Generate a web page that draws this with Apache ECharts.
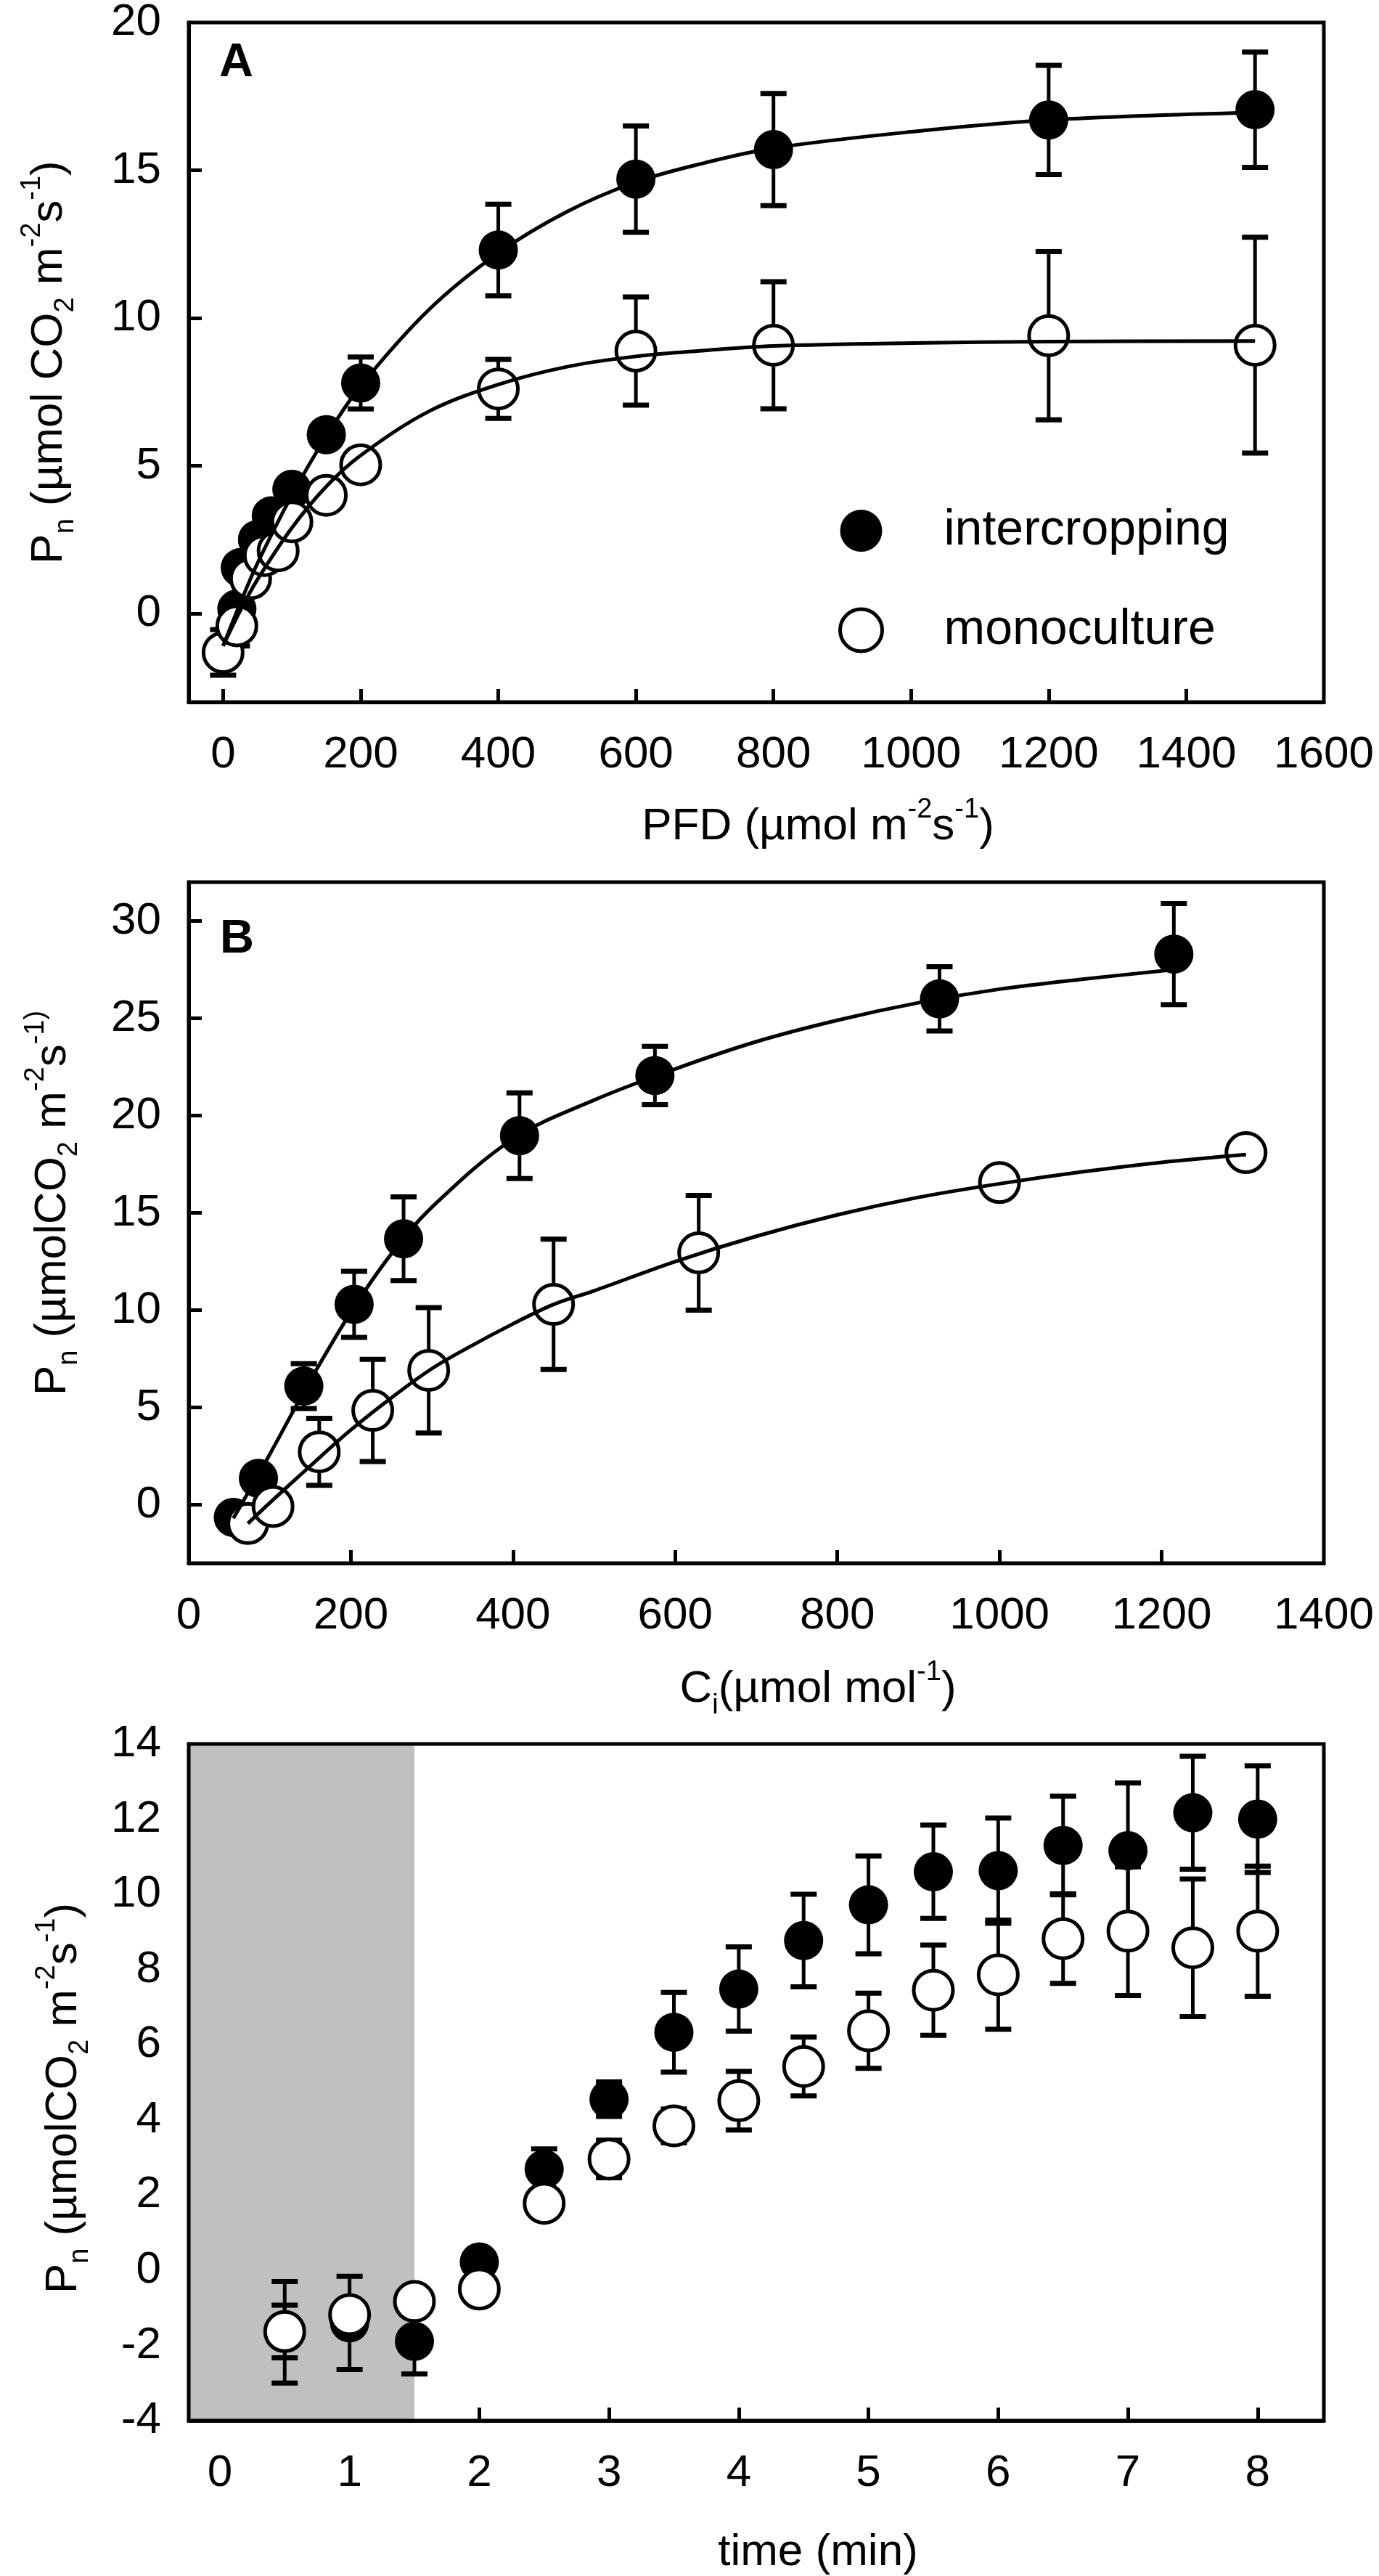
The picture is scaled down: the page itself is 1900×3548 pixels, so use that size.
<!DOCTYPE html>
<html>
<head>
<meta charset="utf-8">
<script src="https://cdn.jsdelivr.net/npm/echarts@6/dist/echarts.min.js"></script>
<style>
  html, body { margin: 0; padding: 0; background: #fff; }
  #chart { width: 1900px; height: 3548px; }
</style>
</head>
<body>
<div id="chart"></div>
<script>
// ===== A: light response (PFD) =====
const pfdFill   = [0, 20, 25, 50, 70, 100, 150, 200, 400, 600, 800, 1200, 1500];
const pnFillA   = [-1.3, 0.15, 1.55, 2.5, 3.3, 4.2, 6.05, 7.8, 12.3, 14.7, 15.7, 16.7, 17.05];
const errFillA  = [0.3, 1.25, 0.3, 0.3, 0.3, 0.3, 0.3, 0.88, 1.55, 1.8, 1.9, 1.85, 1.95];
const pfdOpen   = [0, 20, 40, 60, 80, 100, 150, 200, 400, 600, 800, 1200, 1500];
const pnOpenA   = [-1.32, -0.42, 1.18, 1.96, 2.12, 3.1, 4.0, 5.03, 7.6, 8.88, 9.08, 9.4, 9.08];
const errOpenA  = [0.77, 0.3, 0.3, 0.3, 0.3, 0.3, 0.3, 0.3, 1.0, 1.83, 2.15, 2.85, 3.65];
// fitted curves
const fitXA     = [0, 25, 50, 100, 150, 200, 300, 400, 500, 600, 700, 800, 1000, 1200, 1500];
const fitFillA  = [-1.1, 0.35, 1.7, 4.0, 6.0, 7.7, 10.3, 12.2, 13.6, 14.6, 15.25, 15.75, 16.3, 16.7, 16.95];
const fitOpenA  = [-1.1, 0.1, 1.15, 2.9, 4.3, 5.35, 6.85, 7.75, 8.35, 8.7, 8.9, 9.05, 9.15, 9.2, 9.22];

// ===== B: CO2 response (Ci) =====
const ciFill    = [55, 86, 142, 204, 265, 408, 575, 926, 1215];
const pnFillB   = [-0.65, 1.36, 6.1, 10.3, 13.67, 18.97, 22.06, 26.0, 28.3];
const errFillB  = [0.3, 0.3, 1.15, 1.7, 2.15, 2.2, 1.5, 1.65, 2.6];
const ciOpen    = [73, 104, 161, 227, 296, 450, 629, 1000, 1304];
const pnOpenB   = [-0.96, -0.09, 2.72, 4.85, 6.91, 10.3, 12.95, 16.56, 18.1];
const errOpenB  = [0.3, 0.3, 1.72, 2.63, 3.22, 3.35, 2.95, 0.3, 0.3];
const fitXBFill = [55, 100, 150, 200, 250, 300, 400, 500, 600, 700, 800, 900, 1000, 1100, 1215];
const fitFillB  = [-0.7, 2.6, 6.4, 9.9, 12.9, 15.3, 18.8, 20.8, 22.4, 23.8, 24.9, 25.8, 26.5, 27.0, 27.5];
const fitXBOpen = [73, 100, 150, 200, 250, 300, 350, 400, 450, 500, 600, 700, 800, 900, 1000, 1100, 1200, 1304];
const fitOpenB  = [-0.96, 0.1, 2.0, 3.85, 5.5, 7.0, 8.2, 9.3, 10.3, 11.0, 12.5, 13.8, 14.9, 15.8, 16.5, 17.1, 17.6, 18.0];

// ===== C: induction (time) =====
const timeC     = [0.5, 1, 1.5, 2, 2.5, 3, 3.5, 4, 4.5, 5, 5.5, 6, 6.5, 7, 7.5, 8];
const pnFillC   = [-1.65, -1.4, -1.89, 0.22, 2.69, 4.55, 6.33, 7.48, 8.77, 9.72, 10.6, 10.63, 11.3, 11.16, 12.17, 12.0];
const errFillC  = [1.35, 1.24, 0.87, 0.3, 0.54, 0.46, 1.06, 1.12, 1.23, 1.3, 1.24, 1.4, 1.31, 1.8, 1.5, 1.42];
const pnOpenC   = [-1.63, -1.18, -0.83, -0.5, 1.78, 2.96, 3.84, 4.51, 5.42, 6.37, 7.45, 7.86, 8.82, 9.02, 8.58, 9.02];
const errOpenC  = [0.7, 0.3, 0.3, 0.3, 0.3, 0.5, 0.45, 0.78, 0.78, 1.0, 1.2, 1.45, 1.19, 1.71, 1.83, 1.73];
const darkEnd   = 1.5;   // shaded (dark) period

// tick labels
const ticksAx = [0, 200, 400, 600, 800, 1000, 1200, 1400, 1600];
const ticksAy = [0, 5, 10, 15, 20];
const ticksBx = [0, 200, 400, 600, 800, 1000, 1200, 1400];
const ticksBy = [0, 5, 10, 15, 20, 25, 30];
const ticksCx = [0, 1, 2, 3, 4, 5, 6, 7, 8];
const ticksCy = [-4, -2, 0, 2, 4, 6, 8, 10, 12, 14];

const F = "'Liberation Sans', Arial, sans-serif";

const pair = (xs, ys) => xs.map((x, i) => [x, ys[i]]);

function richFor(size) {
  return {
    b:   { fontFamily: F, fontSize: size, lineHeight: 84, verticalAlign: 'middle', color: '#000' },
    sup: { fontFamily: F, fontSize: Math.round(size * 0.62), lineHeight: 84, verticalAlign: 'top', color: '#000' },
    sub: { fontFamily: F, fontSize: Math.round(size * 0.62), lineHeight: 84, verticalAlign: 'bottom', color: '#000' }
  };
}

function xAxisOf(idx, min, max, labels, ticks, name, nameGap) {
  return {
    gridIndex: idx, type: 'value', min: min, max: max,
    name: name, nameLocation: 'middle', nameGap: nameGap,
    nameTextStyle: { rich: richFor(62), padding: [0, 0, 0, 170] },
    axisLine: { show: true, onZero: false, lineStyle: { color: '#000', width: 5 } },
    axisTick: { show: true, inside: true, length: 18, customValues: ticks, lineStyle: { color: '#000', width: 5 } },
    axisLabel: { customValues: labels, color: '#000', fontFamily: F, fontSize: 62, margin: 42,
                 formatter: v => String(v) },
    splitLine: { show: false }
  };
}

function yAxisOf(idx, min, max, labels, ticks, name, nameGap, pad) {
  return {
    gridIndex: idx, type: 'value', min: min, max: max,
    name: name, nameLocation: 'middle', nameGap: nameGap, nameRotate: 90,
    nameTextStyle: { rich: richFor(62), padding: pad },
    axisLine: { show: true, onZero: false, lineStyle: { color: '#000', width: 5 } },
    axisTick: { show: true, inside: true, length: 18, customValues: ticks, lineStyle: { color: '#000', width: 5 } },
    axisLabel: { customValues: labels, color: '#000', fontFamily: F, fontSize: 62, margin: 38,
                 formatter: v => String(v) },
    splitLine: { show: false }
  };
}

function errorBars(idx, xs, ys, errs) {
  return {
    type: 'custom', xAxisIndex: idx, yAxisIndex: idx, z: 1, silent: true,
    encode: { x: 0, y: [1, 2] },
    data: xs.map((x, i) => [x, ys[i] - errs[i], ys[i] + errs[i]]),
    renderItem: function (params, api) {
      const hi = api.coord([api.value(0), api.value(2)]);
      const lo = api.coord([api.value(0), api.value(1)]);
      const w = 18;
      return {
        type: 'group',
        children: [
          { type: 'line', shape: { x1: hi[0], y1: hi[1], x2: lo[0], y2: lo[1] }, style: { stroke: '#000', lineWidth: 5 } },
          { type: 'line', shape: { x1: hi[0] - w, y1: hi[1], x2: hi[0] + w, y2: hi[1] }, style: { stroke: '#000', lineWidth: 7 } },
          { type: 'line', shape: { x1: lo[0] - w, y1: lo[1], x2: lo[0] + w, y2: lo[1] }, style: { stroke: '#000', lineWidth: 7 } }
        ]
      };
    }
  };
}

function dots(idx, name, xs, ys, open) {
  return {
    type: 'scatter', name: name, xAxisIndex: idx, yAxisIndex: idx, z: 2,
    symbol: 'circle', symbolSize: 54,
    itemStyle: open ? { color: '#fff', borderColor: '#000', borderWidth: 5, opacity: 1 }
                    : { color: '#000', opacity: 1 },
    data: pair(xs, ys)
  };
}

function curve(idx, xs, ys) {
  return {
    type: 'line', xAxisIndex: idx, yAxisIndex: idx, z: 3, silent: true,
    smooth: 0.35, showSymbol: false,
    lineStyle: { color: '#000', width: 5 },
    data: pair(xs, ys)
  };
}

const chart = echarts.init(document.getElementById('chart'), null, { renderer: 'canvas' });

const gridBox = { show: true, backgroundColor: 'transparent', borderColor: '#000', borderWidth: 5, z: 10 };

const option = {
  backgroundColor: '#fff',
  animation: false,
  grid: [
    Object.assign({ left: 260, width: 1564, top: 29, height: 938 }, gridBox),
    Object.assign({ left: 260, width: 1564, top: 1215, height: 938 }, gridBox),
    Object.assign({ left: 260, width: 1564, top: 2402, height: 939 }, gridBox)
  ],
  xAxis: [
    xAxisOf(0, -50, 1600, ticksAx, [0, 200, 400, 600, 800, 1000, 1200, 1400],
      '{b|PFD (µmol m}{sup|-2}{b|s}{sup|-1}{b|)}', 130),
    xAxisOf(1, 0, 1400, ticksBx, [200, 400, 600, 800, 1000, 1200],
      '{b|C}{sub|i}{b|(µmol mol}{sup|-1}{b|)}', 132),
    xAxisOf(2, -0.24, 8.51, ticksCx, [1, 2, 3, 4, 5, 6, 7, 8],
      '{b|time (min)}', 140)
  ],
  yAxis: [
    yAxisOf(0, -3, 20, ticksAy, [0, 5, 10, 15],
      '{b|P}{sub|n}{b| (µmol CO}{sub|2}{b| m}{sup|-2}{b|s}{sup|-1}{b|)}', 150, [0, 0, 0, 0]),
    yAxisOf(1, -3, 32, ticksBy, [0, 5, 10, 15, 20, 25, 30],
      '{b|P}{sub|n}{b| (µmolCO}{sub|2}{b| m}{sup|-2}{b|s}{sup|-1)}', 145, [0, 0, 0, 54]),
    yAxisOf(2, -4, 14, ticksCy, [-2, 0, 2, 4, 6, 8, 10, 12],
      '{b|P}{sub|n}{b| (µmolCO}{sub|2}{b| m}{sup|-2}{b|s}{sup|-1}{b|)}', 130, [0, 44, 0, 0])
  ],
  legend: {
    data: ['intercropping', 'monoculture'],
    orient: 'vertical', left: 1150, top: 692,
    icon: 'circle', itemWidth: 58, itemHeight: 58, itemGap: 69,
    selectedMode: false,
    itemStyle: { borderWidth: 5 },
    textStyle: { fontFamily: F, fontSize: 68, color: '#000', padding: [0, 0, 0, 80] }
  },
  graphic: [
    { type: 'text', left: 302, top: 55, style: { text: 'A', font: 'bold 65px ' + F, fill: '#000' } },
    { type: 'text', left: 303, top: 1262, style: { text: 'B', font: 'bold 65px ' + F, fill: '#000' } },
    { type: 'text', left: 303, top: 2435, style: { text: 'C', font: 'bold 65px ' + F, fill: '#000' } }
  ],
  series: [
    // A
    errorBars(0, pfdFill, pnFillA, errFillA),
    errorBars(0, pfdOpen, pnOpenA, errOpenA),
    dots(0, 'intercropping', pfdFill, pnFillA, false),
    dots(0, 'monoculture', pfdOpen, pnOpenA, true),
    curve(0, fitXA, fitFillA),
    curve(0, fitXA, fitOpenA),
    // B
    errorBars(1, ciFill, pnFillB, errFillB),
    errorBars(1, ciOpen, pnOpenB, errOpenB),
    dots(1, 'intercropping', ciFill, pnFillB, false),
    dots(1, 'monoculture', ciOpen, pnOpenB, true),
    curve(1, fitXBFill, fitFillB),
    curve(1, fitXBOpen, fitOpenB),
    // C
    Object.assign(errorBars(2, timeC, pnFillC, errFillC), {
      markArea: {
        silent: true,
        itemStyle: { color: '#c0c0c0', opacity: 1 },
        data: [[{ xAxis: -0.24 }, { xAxis: darkEnd }]]
      }
    }),
    errorBars(2, timeC, pnOpenC, errOpenC),
    dots(2, 'intercropping', timeC, pnFillC, false),
    dots(2, 'monoculture', timeC, pnOpenC, true)
  ]
};

chart.setOption(option);
</script>
</body>
</html>
